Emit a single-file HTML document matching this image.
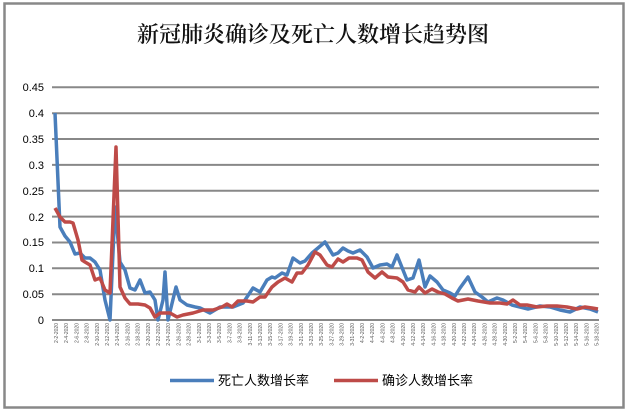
<!DOCTYPE html>
<html><head><meta charset="utf-8"><style>
html,body{margin:0;padding:0;background:#fff;}
svg{display:block;}
</style></head><body>
<svg width="628" height="414" xmlns="http://www.w3.org/2000/svg">
<rect x="0" y="0" width="628" height="414" fill="#fff"/>
<rect x="4.5" y="3.5" width="619" height="404" fill="#fff" stroke="#888" stroke-width="2.5"/>
<text x="313" y="42" text-anchor="middle" font-family="'Noto Serif CJK SC',serif" font-weight="600" font-size="22" fill="#111">新冠肺炎确诊及死亡人数增长趋势图</text>
<g stroke="#888" stroke-width="2">
<line x1="52" x2="599" y1="87.3" y2="87.3"/>
<line x1="52" x2="599" y1="113.2" y2="113.2"/>
<line x1="52" x2="599" y1="139" y2="139"/>
<line x1="52" x2="599" y1="164.9" y2="164.9"/>
<line x1="52" x2="599" y1="190.7" y2="190.7"/>
<line x1="52" x2="599" y1="216.6" y2="216.6"/>
<line x1="52" x2="599" y1="242.5" y2="242.5"/>
<line x1="52" x2="599" y1="268.3" y2="268.3"/>
<line x1="52" x2="599" y1="294.2" y2="294.2"/>
<line x1="52" x2="599" y1="320" y2="320"/>
</g>
<g font-family="'Liberation Sans',sans-serif" font-size="11" fill="#000" text-anchor="end">
<text x="44" y="91">0.45</text><text x="44" y="117">0.4</text><text x="44" y="143">0.35</text>
<text x="44" y="169">0.3</text><text x="44" y="195">0.25</text><text x="44" y="221">0.2</text>
<text x="44" y="246">0.15</text><text x="44" y="272">0.1</text><text x="44" y="298">0.05</text>
<text x="44" y="324">0</text>
</g>
<polyline fill="none" stroke="#4a7ebb" stroke-width="3.5" stroke-linejoin="round" points="55,113 60,227 65,236 70,242 75,254 80,253 85,258 90,258 95,262 100,270 105,300 110,320 115,207 120,262 125,270 130,288 135,290 140,280 145,293 150,292 155,300 158,320 163,300 165,272 168,320 176,287 180,300 187,305 195,307 200,308 210,313 220,307 233,307 243,303 253,288 260,292 267,280 272,277 275,278 282,273 287,275 293,258 300,263 305,261 312,253 318,248 325,242 333,255 338,253 343,248 348,251 353,253 360,250 367,257 373,268 380,265 387,264 392,267 397,255 403,270 407,280 413,278 419,260 425,287 430,276 437,282 443,290 450,293 455,296 460,288 468,277 475,292 482,297 488,302 497,298 503,300 512,305 520,307 528,309 540,306 550,307 560,310 570,312 580,307 590,309 598,312"/>
<polyline fill="none" stroke="#be4b48" stroke-width="3.5" stroke-linejoin="round" points="55,208 60,217 65,222 70,222 73,223 78,240 82,260 85,262 90,265 95,280 100,278 105,290 110,293 116,147 120,287 125,298 130,304 138,304 145,305 150,308 155,317 160,313 170,313 177,317 183,315 193,313 203,310 213,310 222,307 227,304 232,307 238,301 247,301 253,302 260,297 265,297 272,287 278,282 285,278 292,282 297,273 302,273 308,265 315,252 320,255 327,265 332,267 338,259 343,262 349,258 357,258 362,260 368,272 375,278 382,272 388,277 397,278 403,282 408,290 415,292 419,287 425,293 432,289 438,292 445,294 452,298 458,301 468,299 478,301 490,303 500,303 507,304 513,300 520,305 527,305 537,307 547,306 557,306 567,307 577,309 585,307 592,308 598,309"/>
<g font-family="'Liberation Sans',sans-serif" font-size="5" fill="#555" text-anchor="end">
<text transform="translate(58,323) rotate(-90)">2-2-2020</text>
<text transform="translate(68.2,323) rotate(-90)">2-4-2020</text>
<text transform="translate(78.4,323) rotate(-90)">2-6-2020</text>
<text transform="translate(88.6,323) rotate(-90)">2-8-2020</text>
<text transform="translate(98.8,323) rotate(-90)">2-10-2020</text>
<text transform="translate(109,323) rotate(-90)">2-12-2020</text>
<text transform="translate(119.2,323) rotate(-90)">2-14-2020</text>
<text transform="translate(129.4,323) rotate(-90)">2-16-2020</text>
<text transform="translate(139.6,323) rotate(-90)">2-18-2020</text>
<text transform="translate(149.8,323) rotate(-90)">2-20-2020</text>
<text transform="translate(160,323) rotate(-90)">2-22-2020</text>
<text transform="translate(170.2,323) rotate(-90)">2-24-2020</text>
<text transform="translate(180.4,323) rotate(-90)">2-26-2020</text>
<text transform="translate(190.6,323) rotate(-90)">2-28-2020</text>
<text transform="translate(200.8,323) rotate(-90)">3-1-2020</text>
<text transform="translate(211,323) rotate(-90)">3-3-2020</text>
<text transform="translate(221.2,323) rotate(-90)">3-5-2020</text>
<text transform="translate(231.4,323) rotate(-90)">3-7-2020</text>
<text transform="translate(241.6,323) rotate(-90)">3-9-2020</text>
<text transform="translate(251.8,323) rotate(-90)">3-11-2020</text>
<text transform="translate(262,323) rotate(-90)">3-13-2020</text>
<text transform="translate(272.2,323) rotate(-90)">3-15-2020</text>
<text transform="translate(282.4,323) rotate(-90)">3-17-2020</text>
<text transform="translate(292.6,323) rotate(-90)">3-19-2020</text>
<text transform="translate(302.8,323) rotate(-90)">3-21-2020</text>
<text transform="translate(313,323) rotate(-90)">3-23-2020</text>
<text transform="translate(323.2,323) rotate(-90)">3-25-2020</text>
<text transform="translate(333.4,323) rotate(-90)">3-27-2020</text>
<text transform="translate(343.6,323) rotate(-90)">3-29-2020</text>
<text transform="translate(353.8,323) rotate(-90)">3-31-2020</text>
<text transform="translate(364,323) rotate(-90)">4-2-2020</text>
<text transform="translate(374.2,323) rotate(-90)">4-4-2020</text>
<text transform="translate(384.4,323) rotate(-90)">4-6-2020</text>
<text transform="translate(394.6,323) rotate(-90)">4-8-2020</text>
<text transform="translate(404.8,323) rotate(-90)">4-10-2020</text>
<text transform="translate(415,323) rotate(-90)">4-12-2020</text>
<text transform="translate(425.2,323) rotate(-90)">4-14-2020</text>
<text transform="translate(435.4,323) rotate(-90)">4-16-2020</text>
<text transform="translate(445.6,323) rotate(-90)">4-18-2020</text>
<text transform="translate(455.8,323) rotate(-90)">4-20-2020</text>
<text transform="translate(466,323) rotate(-90)">4-22-2020</text>
<text transform="translate(476.2,323) rotate(-90)">4-24-2020</text>
<text transform="translate(486.4,323) rotate(-90)">4-26-2020</text>
<text transform="translate(496.6,323) rotate(-90)">4-28-2020</text>
<text transform="translate(506.8,323) rotate(-90)">4-30-2020</text>
<text transform="translate(517,323) rotate(-90)">5-2-2020</text>
<text transform="translate(527.2,323) rotate(-90)">5-4-2020</text>
<text transform="translate(537.4,323) rotate(-90)">5-6-2020</text>
<text transform="translate(547.6,323) rotate(-90)">5-8-2020</text>
<text transform="translate(557.8,323) rotate(-90)">5-10-2020</text>
<text transform="translate(568,323) rotate(-90)">5-12-2020</text>
<text transform="translate(578.2,323) rotate(-90)">5-14-2020</text>
<text transform="translate(588.4,323) rotate(-90)">5-16-2020</text>
<text transform="translate(598.6,323) rotate(-90)">5-18-2020</text>
</g>
<line x1="170" x2="214" y1="380.5" y2="380.5" stroke="#4a7ebb" stroke-width="3.5"/>
<text x="218" y="385" font-family="'Liberation Sans','Noto Sans CJK SC',sans-serif" font-size="13" fill="#000">死亡人数增长率</text>
<line x1="334" x2="378" y1="380.5" y2="380.5" stroke="#be4b48" stroke-width="3.5"/>
<text x="382" y="385" font-family="'Liberation Sans','Noto Sans CJK SC',sans-serif" font-size="13" fill="#000">确诊人数增长率</text>
</svg>
</body></html>
